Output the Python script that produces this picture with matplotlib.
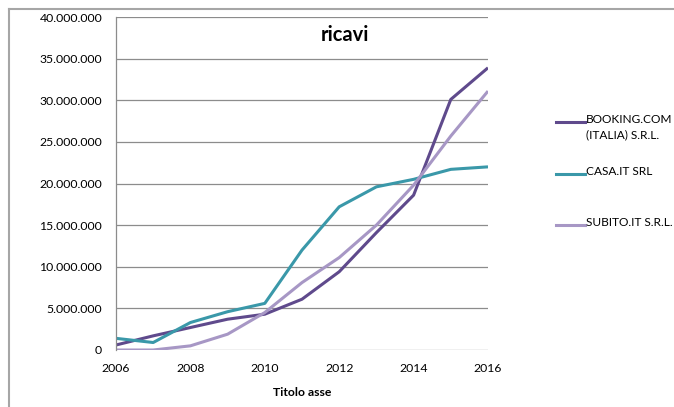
import matplotlib
matplotlib.use("Agg")
import matplotlib.pyplot as plt
from matplotlib.lines import Line2D
from matplotlib.ticker import FuncFormatter

plt.rcParams['font.family'] = ['Lato', 'DejaVu Sans']

# Dati
anni = [2006, 2007, 2008, 2009, 2010, 2011, 2012, 2013, 2014, 2015, 2016]
booking = [0.6e6, 1.7e6, 2.7e6, 3.7e6, 4.3e6, 6.1e6, 9.4e6, 14.1e6, 18.6e6, 30.1e6, 33.9e6]
casa = [1.4e6, 0.9e6, 3.3e6, 4.6e6, 5.6e6, 12.0e6, 17.2e6, 19.6e6, 20.5e6, 21.7e6, 22.0e6]
subito = [0.0, 0.0, 0.5e6, 1.9e6, 4.5e6, 8.1e6, 11.1e6, 15.0e6, 19.8e6, 25.7e6, 31.1e6]
nomi = ['BOOKING.COM\n(ITALIA) S.R.L.', 'CASA.IT SRL', 'SUBITO.IT S.R.L.']
colori = ['#5F4A8C', '#3A98A9', '#A797C5']

fig = plt.figure(figsize=(6.74, 4.07), dpi=100)
ax = fig.add_axes([116 / 674, 1 - 350 / 407, (488 - 116) / 674, (350 - 17) / 407])

# Bordo esterno del grafico (solo lati alto e sinistro visibili)
bx, by = 8.5 / 674, 1 - 8.5 / 407
fig.add_artist(Line2D([bx, 1.1], [by, by], transform=fig.transFigure,
                      color='#A6A6A6', linewidth=1.5))
fig.add_artist(Line2D([bx, bx], [-0.1, by], transform=fig.transFigure,
                      color='#A6A6A6', linewidth=1.5))

for serie, col in zip([booking, casa, subito], colori):
    ax.plot(anni, serie, color=col, linewidth=2.2, solid_capstyle='butt')

ax.set_xlim(2006, 2016)
ax.set_ylim(0, 40e6)
ax.set_xticks([2006, 2008, 2010, 2012, 2014, 2016])
ax.set_yticks(range(0, 40000001, 5000000))
ax.yaxis.set_major_formatter(FuncFormatter(lambda v, p: f'{int(v):,}'.replace(',', '.')))
ax.grid(axis='y', color='#8C8C8C', linewidth=0.9)
ax.set_axisbelow(True)
for s in ['top', 'right', 'bottom']:
    ax.spines[s].set_visible(False)
ax.spines['left'].set_color('#8C8C8C')
ax.spines['left'].set_linewidth(0.9)
ax.tick_params(length=0, labelsize=8.8, colors='black')
ax.tick_params(axis='y', pad=10)
ax.tick_params(axis='x', pad=9)

ax.set_xlabel('Titolo asse', fontsize=8.8, fontweight='bold', labelpad=10)
ax.text(0.616, 0.945, 'ricavi', transform=ax.transAxes, ha='center', va='center',
        fontsize=14.5, fontweight='bold')

# Legenda
leg_y = [122, 174, 225]
for nome, col, y in zip(nomi, colori, leg_y):
    yf = 1 - y / 407
    fig.add_artist(Line2D([556 / 674, 585 / 674], [yf, yf], transform=fig.transFigure,
                          color=col, linewidth=2.2))
    fig.text(586 / 674, yf + 8 / 407, nome, ha='left', va='top', fontsize=8.6,
             linespacing=1.45)

fig.savefig('out.png', dpi=100)
